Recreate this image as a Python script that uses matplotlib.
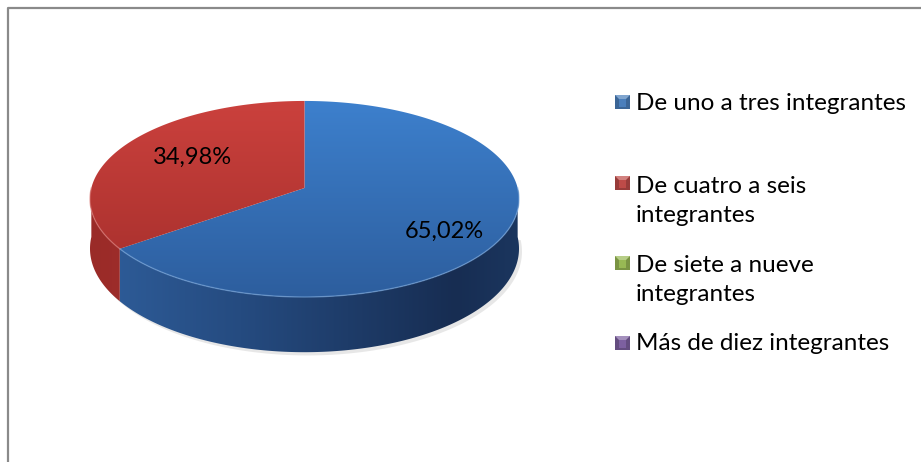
import numpy as np
import matplotlib
matplotlib.use("Agg")
import matplotlib.pyplot as plt
from matplotlib.patches import Polygon, Rectangle
from matplotlib.colors import to_rgb

# ---- data ----
categories = ["De uno a tres integrantes", "De cuatro a seis\nintegrantes",
              "De siete a nueve\nintegrantes", "Más de diez integrantes"]
values = [65.02, 34.98, 0.0, 0.0]
labels = ["65,02%", "34,98%", "", ""]

# ---- styles ----
top_cols = [("#3d80cd", "#2d5e9e"), ("#cb413d", "#a42e2b"), ("#9bbb59", "#7d9a40"), ("#8064a2", "#634c82")]
side_cols = [["#2f5e9b", "#254b80", "#172d52", "#1b365f"],
             ["#9a2b28", "#a83230", "#8d2623", "#8a2522"],
             ["#7d9a40", "#6f8a38", "#5d7630", "#5d7630"],
             ["#634c82", "#574373", "#4a3863", "#4a3863"]]
legend_cols = ["#4a7ebb", "#be4b48", "#98b954", "#7d60a0"]
FONT = "Lato"

W, H = 921, 462
fig = plt.figure(figsize=(W / 100, H / 100), dpi=100)
ax = fig.add_axes([0, 0, 1, 1])
ax.set_xlim(0, W)
ax.set_ylim(H, 0)
ax.axis("off")

# border (top and left visible)
ax.plot([8, 8, W], [H, 7.5, 7.5], color="#8a8a8a", lw=1.6, solid_capstyle="butt", zorder=1)

# projected 3D pie geometry (simple perspective)
cx, cy, B, p, thick = 304.5, 188.0, 96.8, 0.112, 49.0
_tt = np.radians(np.linspace(0, 360, 3601))
_s = 1.0 / (1.0 + p * np.sin(_tt))
R = 214.5 / np.max(np.abs(np.cos(_tt)) * _s)


def pt(theta_deg, z=0.0):
    t = np.radians(theta_deg)
    s = 1.0 / (1.0 + p * np.sin(t))
    return cx + R * np.cos(t) * s, cy - B * np.sin(t) * s + z * s


def mix(c1, c2, f):
    c1, c2 = np.array(to_rgb(c1)), np.array(to_rgb(c2))
    return c1 + (c2 - c1) * f


total = sum(values)
start = 90.0
spans = []
for v in values:
    sweep = v / total * 360.0
    spans.append((start - sweep, start))
    start -= sweep

x_left, x_right = cx - 214.5, cx + 214.5
ytop_img, ybot_img = cy - 100, cy + B * 1.13 + thick * 1.13 + 2

# faint shadow under the pie
sh_ts = np.linspace(-180, 0, 200)
sh = [pt(t, thick + 2) for t in sh_ts]
ax.fill([q[0] + 3 for q in sh], [q[1] + 1 for q in sh], color="#d0d0d0", alpha=0.5, lw=0, zorder=1.5)

# side walls (visible front half)
for i, (t0, t1) in enumerate(spans):
    if values[i] <= 0:
        continue
    lo, hi = max(t0, -180.0), min(t1, 0.0)
    if lo >= hi:
        continue
    ts = np.linspace(lo, hi, 300)
    topv = [pt(t) for t in ts]
    botv = [pt(t, thick) for t in ts[::-1]]
    poly = Polygon(topv + botv, closed=True, facecolor="none", edgecolor="none", zorder=2)
    ax.add_patch(poly)
    stops = np.array([to_rgb(c) for c in side_cols[i]])
    xs = np.linspace(0, 1, 512)
    sp = np.array([0.0, 0.35, 0.85, 1.0])
    img = np.stack([np.interp(xs, sp, stops[:, k]) for k in range(3)], axis=-1)[None, :, :]
    im = ax.imshow(img, extent=(x_left, x_right, ybot_img, ytop_img), aspect="auto",
                   interpolation="bilinear", zorder=2)
    im.set_clip_path(poly)

# top face wedges with vertical gradient
for i, (t0, t1) in enumerate(spans):
    if values[i] <= 0:
        continue
    ts = np.linspace(t0, t1, 300)
    verts = [(cx, cy)] + [pt(t) for t in ts]
    poly = Polygon(verts, closed=True, facecolor="none", edgecolor="none", zorder=3)
    ax.add_patch(poly)
    grad = np.linspace(0, 1, 256)[:, None]
    c_top, c_bot = np.array(to_rgb(top_cols[i][0])), np.array(to_rgb(top_cols[i][1]))
    img = c_top[None, None, :] + (c_bot - c_top)[None, None, :] * grad[:, :, None]
    im = ax.imshow(img, extent=(x_left, x_right, cy + B * 1.13, cy - B * 0.9), aspect="auto",
                   interpolation="bilinear", zorder=3)
    im.set_clip_path(poly)
    # rim highlight along the visible front edge
    fr = ts[(ts <= 0) & (ts >= -180)]
    if len(fr):
        xs_, ys_ = zip(*[pt(t) for t in fr])
        ax.plot(xs_, ys_, color=mix(top_cols[i][0], "#ffffff", 0.3), lw=1.0, alpha=0.6, zorder=4)

ax.set_xlim(0, W)
ax.set_ylim(H, 0)

# data labels
label_pos = [(444, 231), (192, 157)]
for i, lab in enumerate(labels):
    if lab:
        ax.text(label_pos[i][0], label_pos[i][1], lab, ha="center", va="center",
                fontsize=17, family=FONT, color="#000000", zorder=6)

# legend
marker_y = [102, 183, 263, 343]
text_y = [103, 201, 280, 344]
for i, cat in enumerate(categories):
    y = marker_y[i]
    base = legend_cols[i]
    ax.add_patch(Rectangle((615, y - 7), 15, 14, facecolor=mix(base, "#000000", 0.2),
                           edgecolor="none", zorder=5))
    # bevel: lighter top triangle, base center
    ax.add_patch(Polygon([(615, y - 7), (630, y - 7), (626, y - 3), (619, y - 3)],
                         closed=True, facecolor=mix(base, "#ffffff", 0.3), edgecolor="none", zorder=6))
    ax.add_patch(Rectangle((619, y - 3), 7, 7.5, facecolor=base, edgecolor="none", zorder=6))
    ax.text(636, text_y[i], cat, ha="left", va="center", fontsize=17.5, family=FONT,
            linespacing=1.5, color="#000000", zorder=6)

fig.savefig("out.png", dpi=100)
